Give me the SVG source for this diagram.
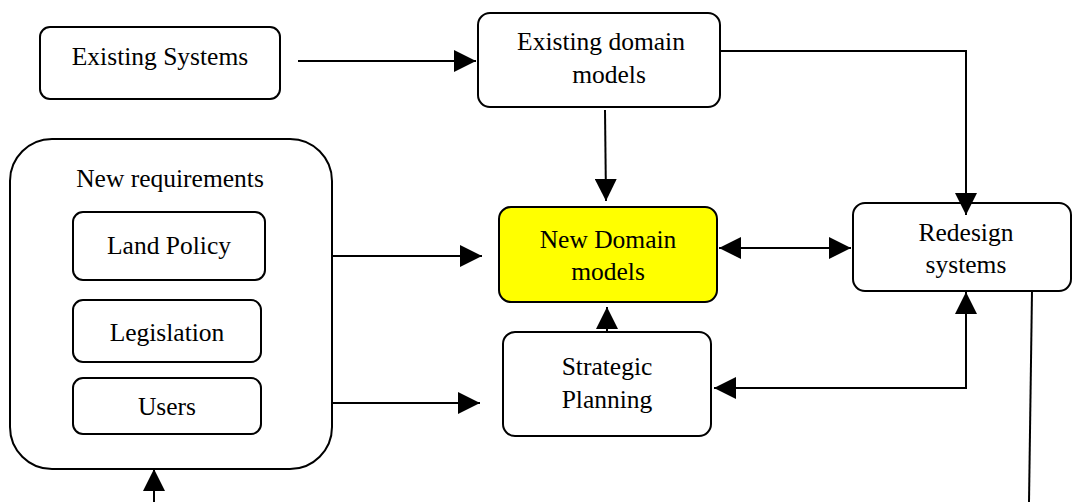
<svg xmlns="http://www.w3.org/2000/svg" width="1072" height="502" viewBox="0 0 1072 502">
<defs>
<style>
.box{fill:#fff;stroke:#000;stroke-width:2}
.yel{fill:#ffff00;stroke:#000;stroke-width:2}
.t{font-size:25.5px;fill:#000;text-anchor:middle}
.ln{fill:none;stroke:#000;stroke-width:2}
</style>
<marker id="ah" markerUnits="userSpaceOnUse" markerWidth="22" markerHeight="22" viewBox="0 0 20 20" refX="20" refY="10" orient="auto-start-reverse">
<path d="M0,0 L20,10 L0,20 Z" fill="#000"/>
</marker>
</defs>
<rect width="1072" height="502" fill="#fff"/>
<g font-family="Liberation Serif, DejaVu Serif, serif">
<g id="existing-systems">
<rect class="box" x="40" y="27" width="240" height="72" rx="10"/>
<text class="t" x="160" y="65">Existing Systems</text>
</g>
<g id="existing-domain-models">
<rect class="box" x="478" y="13" width="242" height="94" rx="12"/>
<text class="t" x="601" y="50">Existing domain</text>
<text class="t" x="609" y="83">models</text>
</g>
<g id="new-requirements">
<rect class="box" x="10" y="139" width="322" height="330" rx="42"/>
<text class="t" x="170" y="187">New requirements</text>
</g>
<g id="land-policy">
<rect class="box" x="73" y="212" width="192" height="68" rx="10"/>
<text class="t" x="169" y="254">Land Policy</text>
</g>
<g id="legislation">
<rect class="box" x="73" y="300" width="188" height="62" rx="10"/>
<text class="t" x="167" y="341">Legislation</text>
</g>
<g id="users">
<rect class="box" x="73" y="378" width="188" height="56" rx="10"/>
<text class="t" x="167" y="415">Users</text>
</g>
<g id="new-domain-models">
<rect class="yel" x="499" y="207" width="218" height="95" rx="12"/>
<text class="t" x="608" y="248">New Domain</text>
<text class="t" x="608" y="280">models</text>
</g>
<g id="redesign-systems">
<rect class="box" x="853" y="203" width="218" height="88" rx="12"/>
<text class="t" x="966" y="241">Redesign</text>
<text class="t" x="966" y="273">systems</text>
</g>
<g id="strategic-planning">
<rect class="box" x="503" y="332" width="208" height="104" rx="12"/>
<text class="t" x="607" y="375">Strategic</text>
<text class="t" x="607" y="408">Planning</text>
</g>
</g>
<g id="connectors">
<line class="ln" x1="298" y1="61" x2="476" y2="61" marker-end="url(#ah)"/>
<polyline class="ln" points="720,51 966,51 966,215" marker-end="url(#ah)"/>
<line class="ln" x1="605" y1="110" x2="606" y2="201" marker-end="url(#ah)"/>
<line class="ln" x1="332" y1="256" x2="482" y2="256" marker-end="url(#ah)"/>
<line class="ln" x1="332" y1="403" x2="480" y2="403" marker-end="url(#ah)"/>
<line class="ln" x1="719" y1="248" x2="851" y2="248" marker-start="url(#ah)" marker-end="url(#ah)"/>
<line class="ln" x1="607" y1="332" x2="607" y2="307" marker-end="url(#ah)"/>
<polyline class="ln" points="714,388 966,388 966,292" marker-start="url(#ah)" marker-end="url(#ah)"/>
<line class="ln" x1="1032" y1="291" x2="1029" y2="502"/>
<line class="ln" x1="154" y1="502" x2="154" y2="469" marker-end="url(#ah)"/>
</g>
</svg>
